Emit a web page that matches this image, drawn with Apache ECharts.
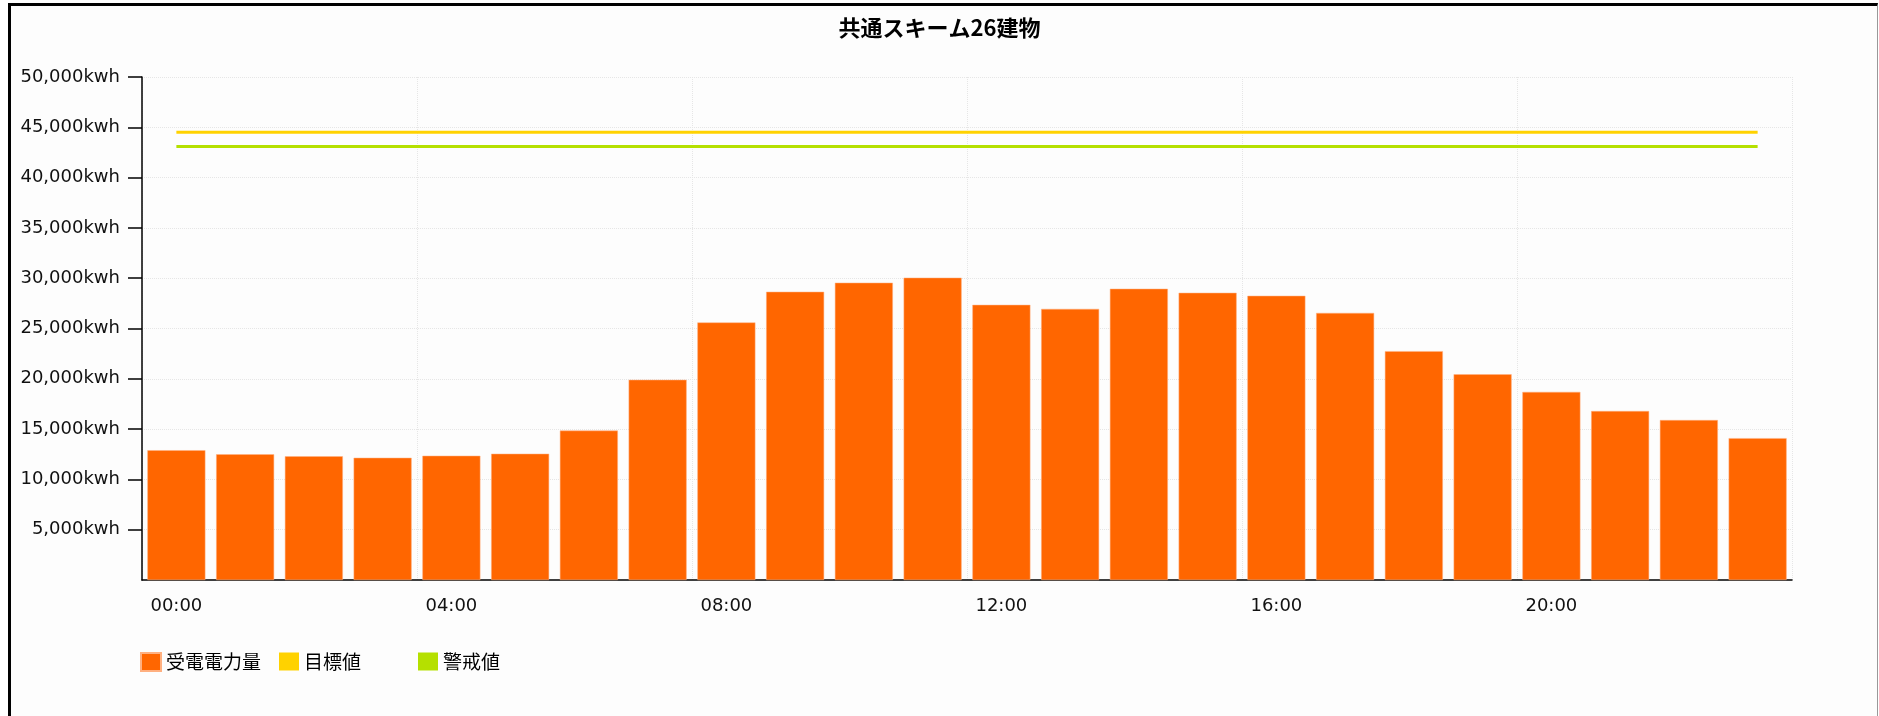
<!DOCTYPE html>
<html>
<head>
<meta charset="utf-8">
<script src="https://cdn.jsdelivr.net/npm/echarts@6.0.0/dist/echarts.min.js"></script>
<style>
    html, body { margin: 0; padding: 0; background: #ffffff; }
    #frame {
        position: absolute; left: 8px; top: 3px; width: 1866px; height: 720px;
        border-top: 3px solid #000; border-left: 3px solid #000; border-right: 1px solid #999;
        background: #fdfdfd;
    }
    #chart { position: absolute; left: 0; top: 0; width: 1879px; height: 716px; }
</style>
</head>
<body>
<div id="frame"></div>
<div id="chart"></div>
<script>
var hours = ['00:00','01:00','02:00','03:00','04:00','05:00','06:00','07:00','08:00','09:00','10:00','11:00',
    '12:00','13:00','14:00','15:00','16:00','17:00','18:00','19:00','20:00','21:00','22:00','23:00'];
//受電電力量
var powerData = [12900, 12500, 12300, 12150, 12350, 12550, 14850, 19900, 25600, 28650, 29550, 30050,
    27350, 26950, 28950, 28550, 28250, 26550, 22750, 20450, 18700, 16800, 15900, 14100];
//目標値
var targetData = [44500, 44500, 44500, 44500, 44500, 44500, 44500, 44500, 44500, 44500, 44500, 44500,
    44500, 44500, 44500, 44500, 44500, 44500, 44500, 44500, 44500, 44500, 44500, 44500];
//警戒値
var alertData = [43100, 43100, 43100, 43100, 43100, 43100, 43100, 43100, 43100, 43100, 43100, 43100,
    43100, 43100, 43100, 43100, 43100, 43100, 43100, 43100, 43100, 43100, 43100, 43100];
var yTicks = [5000, 10000, 15000, 20000, 25000, 30000, 35000, 40000, 45000, 50000];
var legendNames = ['受電電力量', '目標値', '警戒値'];
var legendLeft = [140, 279, 418];

var chart = echarts.init(document.getElementById('chart'));

//凡例は固定位置で3つ
var legends = [];
for (var i = 0; i < legendNames.length; i++) {
    legends.push({
        left: legendLeft[i],
        top: 652,
        padding: 0,
        icon: 'rect',
        itemWidth: 20,
        itemHeight: 18,
        itemGap: 0,
        data: [legendNames[i]],
        textStyle: {
            fontFamily: 'Noto Sans CJK JP',
            fontSize: 19,
            color: '#000'
        }
    });
}

var option = {
    animation: false,
    title: {
        text: '共通スキーム26建物',
        left: 'center',
        top: 12,
        textStyle: {
            fontFamily: 'Noto Sans CJK JP',
            fontSize: 22,
            fontWeight: 'bold',
            color: '#000'
        }
    },
    legend: legends,
    grid: {
        left: 142,
        right: 87,
        top: 77,
        bottom: 136,
        containLabel: false,
        outerBoundsMode: 'none'
    },
    xAxis: {
        type: 'category',
        data: hours,
        axisLine: { lineStyle: { color: '#000', width: 1.5 } },
        axisTick: {
            alignWithLabel: true,
            interval: 3,
            length: 14,
            lineStyle: { color: '#000', width: 1.5 }
        },
        axisLabel: {
            interval: 3,
            margin: 17,
            fontFamily: 'DejaVu Sans',
            fontSize: 18,
            color: '#111'
        },
        splitLine: {
            show: true,
            interval: 3,
            lineStyle: { type: 'dotted', color: '#e6e6e6', width: 1 }
        }
    },
    yAxis: {
        type: 'value',
        min: 0,
        max: 50000,
        interval: 5000,
        axisLine: { show: true, lineStyle: { color: '#000', width: 1.5 } },
        axisTick: {
            show: true,
            length: 14,
            customValues: yTicks,
            lineStyle: { color: '#000', width: 1.5 }
        },
        axisLabel: {
            margin: 22,
            customValues: yTicks,
            fontFamily: 'DejaVu Sans',
            fontSize: 18,
            color: '#111',
            formatter: function (v) {
                return String(v).replace(/\B(?=(\d{3})+(?!\d))/g, ',') + 'kwh';
            }
        },
        splitLine: {
            lineStyle: { type: 'dotted', color: '#e6e6e6', width: 1 }
        }
    },
    series: [
        {
            name: '受電電力量',
            type: 'bar',
            barWidth: 58,
            itemStyle: { color: '#ff6600', borderColor: '#ffb080', borderWidth: 0.5 },
            data: powerData
        },
        {
            name: '目標値',
            type: 'line',
            showSymbol: false,
            symbol: 'none',
            lineStyle: { color: '#ffd200', width: 3 },
            itemStyle: { color: '#ffd200' },
            data: targetData
        },
        {
            name: '警戒値',
            type: 'line',
            showSymbol: false,
            symbol: 'none',
            lineStyle: { color: '#b5e000', width: 3 },
            itemStyle: { color: '#b5e000' },
            data: alertData
        }
    ]
};
chart.setOption(option);

window.addEventListener('resize', function () {
    chart.resize();
});
</script>
</body>
</html>
